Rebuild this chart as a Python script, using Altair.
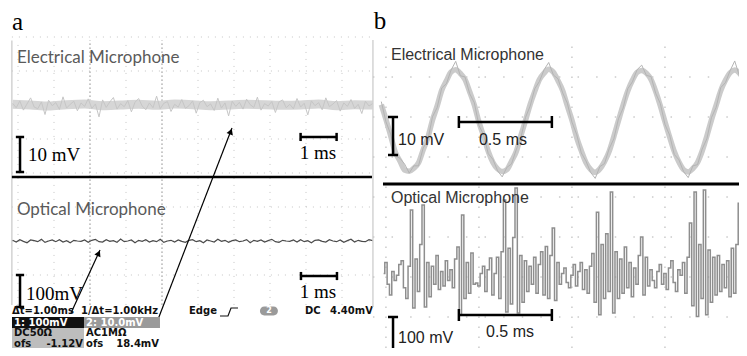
import altair as alt
import pandas as pd

# ---------------- data ----------------
# (a) scope capture, 1 ms/div, samples every 0.1 ms starting at -4.15 ms
a_t0, a_dt = -4.15, 0.1
a_elec_mV = [0.5, -0.8, 1.2, -1.5, 0.3, 2.1, -0.6, -1.1, 0.9, -2.8,
             1.4, -0.2, 0.7, -1.3, 2.4, -0.9, 0.2, 1.1, -1.7, 0.6,
             -0.4, 1.8, -1.0, 0.3, -3.5, 1.5, -0.7, 0.9, 2.2, -1.2,
             0.4, -0.5, 1.3, -2.0, 0.8, 1.9, -0.3, -1.4, 0.6, -0.8,
             2.6, -1.1, 0.5, 1.0, -1.9, 0.2, -0.6, 1.6, -1.0, -0.2,
             1.2, -2.4, 0.7, 1.4, -0.5, 0.3, -1.6, 2.0, -0.9, 0.6,
             -3.2, 1.1, -0.4, 0.8, -1.2, 1.7, 0.1, -0.7, 2.3, -1.5,
             0.4, -0.3, 1.0, -2.2, 0.9, 1.5, -0.8, 0.2, -1.1, 1.9,
             -0.6, 0.5, -2.9, 1.2, -0.2, 0.7, -1.4, 2.1, -0.5, 0.3,
             1.3, -1.8, 0.6, -0.4, 1.6, -1.0, 0.2, -2.5, 1.1, -0.3, 0.4]
a_band_dt = 0.5
a_elec_band_mV = [0.2, 0.0, -0.3, 0.1, 0.3, -0.2, 0.0, 0.2, -0.1, 0.3, 0.1,
                  -0.2, 0.0, 0.2, 0.1, -0.1, 0.0, 0.3, -0.2, 0.1, 0.0]
a_opt_mV = [2, -3, 4, -1, -5, 3, 1, -2, 5, -4,
            0, 3, -2, 4, -3, 1, -5, 2, 0, -1,
            3, -4, 2, 5, -2, -3, 4, -1, 1, -4,
            6, -2, 0, 3, -5, 2, -1, 4, -3, 1,
            -2, 5, -4, 0, 2, -3, 3, -1, -4, 2,
            4, -2, 1, -5, 3, 0, -3, 5, -1, 2,
            -4, 1, 3, -2, 0, 4, -5, 2, -1, 3,
            -3, 1, 5, -2, -4, 2, 0, -1, 3, -3,
            4, -2, 1, -5, 2, 3, -1, -3, 4, 0,
            -2, 3, -4, 1, 5, -3, 2, -1, -2, 4, 1]

# (b) 2 kHz tone, samples every 0.025 ms (electrical) / 0.0125 ms (optical)
b_elec_t0, b_elec_dt = -1.025, 0.025
b_elec_mV = [4.3, 0.4, -3.8, -8.2, -10.5, -12.9, -13.2, -12.4, -11.0, -7.6,
             -4.4, 0.2, 3.9, 8.1, 10.6, 12.9, 13.5, 12.5, 10.9, 7.7,
             4.2, -0.3, -4.0, -8.0, -10.9, -12.6, -13.3, -12.8, -10.6, -8.1,
             -3.9, 0.1, 4.3, 7.8, 10.9, 12.6, 13.6, 12.8, 10.6, 8.0,
             4.0, 0.2, -4.3, -7.8, -10.9, -12.7, -13.5, -12.6, -10.7, -8.0,
             -4.1, 0.1, 4.2, 7.9, 10.7, 12.8, 13.3, 12.6, 10.9, 7.8,
             4.0, -0.2, -4.2, -8.0, -10.8, -12.8, -13.4, -12.5, -10.9, -7.9,
             -4.0, 0.3, 4.1, 8.0, 10.7, 12.7, 13.4, 12.6, 10.8, 7.8]
# fine noise riding on the tone, read as deviation from the smooth trace
b_elec_fuzz_mV = [0.8, -0.6, 0.4, -0.9, 0.7, 1.6, -0.5, 0.6, -0.8, 0.5,
                  -0.7, 0.9, -0.4, 0.6, -0.8, 0.5, 2.2, -0.6, 0.7, -0.5,
                  0.6, -0.9, 0.4, -0.6, 0.8, -0.5, -1.4, 0.6, -0.7, 0.5,
                  -0.6, 0.8, -0.4, 0.7, -0.5, 0.9, 1.8, -0.7, 0.5, -0.6,
                  0.7, -0.5, 0.8, -0.6, 0.4, -0.8, -1.6, 0.6, -0.5, 0.7,
                  -0.6, 0.5, -0.8, 0.6, -0.4, 0.7, 1.4, -0.6, 0.8, -0.5,
                  0.6, -0.7, 0.5, -0.8, 0.6, -0.5, -1.5, 0.7, -0.6, 0.5,
                  -0.7, 0.6, -0.5, 0.8, -0.6, 0.5, 2.4, -0.7, 0.6, -0.5]
b_opt_t0, b_opt_dt = -1.0125, 0.0125
b_opt_mV = [10, 40, -20, -50, 15, -10, 5, 35, 45, -30,
            -60, 30, 186, -86, 50, -40, 90, 200, -83, 40,
            -55, 30, -20, 60, -35, 15, -25, 45, -10, 20,
            -30, 50, 83, -105, 172, -60, 40, -45, 67, -20,
            -17, -25, 10, 30, -40, 20, 53, -50, 10, 55,
            -60, 70, 214, -97, 80, -75, 110, 247, -100, 60,
            -70, 45, -40, 30, -20, 55, -45, 35, 70, -50,
            85, -60, 60, 136, -65, 40, -20, 10, 25, -15,
            -30, 5, 35, -25, 15, 40, -35, 20, -45, 30,
            65, -70, 180, -105, 90, -60, 120, -40, 236, -100,
            70, -60, 50, -45, 83, -30, 40, -55, 25, -20,
            60, 111, -50, 55, -25, 20, -10, -30, 15, 35,
            -20, 10, -35, 25, 45, -15, -40, 20, 5, 40,
            -45, 55, 150, -80, 236, -110, 90, -60, 242, -105,
            75, -70, 55, -50, 60, -40, 35, -30, 45, -55,
            80, -45, 90, 205, -83, 60, -50, 30]

# text content
a_titles = ["Electrical Microphone", "Optical Microphone"]
a_scale_labels = ["10 mV", "1 ms", "100mV", "1 ms"]
b_titles = ["Electrical Microphone", "Optical Microphone"]
b_scale_labels = ["10 mV", "0.5 ms", "100 mV", "0.5 ms"]
status_labels = ["\u0394t=1.00ms", "1/\u0394t=1.00kHz", "Edge", "DC", "4.40mV"]
box_labels_white = ["1: 100mV", "2: 10.0mV"]
box_labels_dark = ["DC50\u03a9", "AC1M\u03a9", "ofs", "ofs"]
box_values = ["-1.12V", "18.4mV"]

# ---------------- scales (one chart, two coordinate systems) ----------------
W, H = 731, 340
AX = alt.Scale(domain=[-4.278, 16.028], nice=False, zero=False)   # panel a time, ms
AY = alt.Scale(domain=[-0.147, 9.853], nice=False, zero=False)    # panel a divisions
BX = alt.Scale(domain=[-3.032, 0.898], nice=False, zero=False)    # panel b time, ms
BY = alt.Scale(domain=[0.225, 8.725], nice=False, zero=False)     # panel b divisions
A_END = 5.833
B_END = 0.898


def X(s):
    return alt.X("x:Q", scale=s, axis=None)


def Y(s):
    return alt.Y("y:Q", scale=s, axis=None)


def rules(df, xs, ys, **mk):
    return alt.Chart(df).mark_rule(clip=True, **mk).encode(x=X(xs), y=Y(ys), x2="x2:Q", y2="y2:Q")


def line(df, xs, ys, **mk):
    return alt.Chart(df).mark_line(clip=True, **mk).encode(x=X(xs), y=Y(ys))


def texts(df, xs, ys, **mk):
    return alt.Chart(df).mark_text(**mk).encode(x=X(xs), y=Y(ys), text="text:N")


def seg(rows):
    return pd.DataFrame(rows, columns=["x", "y", "x2", "y2"])


def trace(t0, dt, vals, center, k):
    return pd.DataFrame({"x": [t0 + i * dt for i in range(len(vals))],
                         "y": [center + v * k for v in vals]})


STAT = dict(font="DejaVu Sans", fontWeight="bold", fontSize=10, baseline="middle")

# ---------------- panel a ----------------
L = []
L.append(rules(seg([(-4.17, r, A_END, r) for r in range(2, 10)]), AX, AY,
               color="#c4c4c4", strokeDash=[1, 6], strokeWidth=1))
L.append(rules(seg([(c, 1.12, c, 8.9) for c in [-4, -3, -1, 1, 2, 3, 4, 5]]), AX, AY,
               color="#c4c4c4", strokeDash=[1, 6], strokeWidth=1))
L.append(rules(seg([(c, 1.12, c, 8.9) for c in [-2, 0]]), AX, AY,
               color="#8a8a8a", strokeDash=[1.5, 2.5], strokeWidth=1))
L.append(rules(seg([(-4.17, 1.12, -4.17, 8.9)]), AX, AY, color="#c8c8c8", strokeWidth=1.2))
L.append(line(trace(a_t0, a_band_dt, a_elec_band_mV, 7.0, 0.1), AX, AY,
              color="#d6d6d6", strokeWidth=9, interpolate="monotone"))
L.append(line(trace(a_t0, a_dt, a_elec_mV, 7.0, 0.1), AX, AY, color="#c6c6c6", strokeWidth=1))
L.append(line(trace(a_t0, a_dt, a_opt_mV, 3.0, 0.01), AX, AY, color="#4a4a4a", strokeWidth=1.2))
L.append(rules(seg([(-4.17, 4.88, A_END, 4.88)]), AX, AY, color="black", strokeWidth=2.5))
L.append(rules(seg([
    (-3.944, 5.029, -3.944, 6.059), (-4.06, 6.059, -3.83, 6.059), (-4.06, 5.029, -3.83, 5.029),
    (3.85, 6.059, 4.85, 6.059), (3.85, 5.94, 3.85, 6.18), (4.85, 5.94, 4.85, 6.18),
    (-3.944, 1.06, -3.944, 2.0), (-4.06, 2.0, -3.83, 2.0), (-4.06, 1.06, -3.83, 1.06),
    (3.86, 1.97, 4.86, 1.97), (3.86, 1.85, 3.86, 2.09), (4.86, 1.85, 4.86, 2.09),
]), AX, AY, color="black", strokeWidth=2.5))
L.append(rules(seg([(-2.528, 0.882, -1.722, 2.735), (-0.139, 0.618, 1.944, 6.324)]), AX, AY,
               color="black", strokeWidth=1.2))
L.append(alt.Chart(pd.DataFrame({"x": [-1.76, 1.91], "y": [2.64, 6.22], "ang": [25, 21]}))
         .mark_point(shape="triangle-up", filled=True, size=45, color="black", opacity=1)
         .encode(x=X(AX), y=Y(AY), angle=alt.Angle("ang:Q", scale=None)))
L.append(texts(pd.DataFrame({"x": [-4.03, -4.03], "y": [8.38, 3.91], "text": a_titles}), AX, AY,
               align="left", baseline="middle", font="Lato", fontSize=17, color="#5a5a5a"))
L.append(texts(pd.DataFrame({"x": [-3.72, -3.78], "y": [5.53, 1.44],
                             "text": [a_scale_labels[0], a_scale_labels[2]]}),
               AX, AY, align="left", baseline="middle", font="Liberation Serif",
               fontSize=19, color="black"))
L.append(texts(pd.DataFrame({"x": [4.333, 4.333], "y": [5.59, 1.50],
                             "text": [a_scale_labels[1], a_scale_labels[3]]}),
               AX, AY, align="center", baseline="middle", font="Liberation Serif",
               fontSize=19, color="black"))
L.append(texts(pd.DataFrame({"x": [-4.167], "y": [9.22], "text": ["a"]}), AX, AY,
               align="left", baseline="alphabetic", font="Liberation Serif",
               fontSize=25, color="black"))
# status line
L.append(texts(pd.DataFrame({"x": [-4.167, -2.25, 0.75, 3.97], "y": [0.94] * 4,
                             "text": status_labels[:4]}), AX, AY, align="left", color="#111", **STAT))
L.append(texts(pd.DataFrame({"x": [5.86], "y": [0.94], "text": [status_labels[4]]}), AX, AY,
               align="right", color="#111", **STAT))
L.append(line(pd.DataFrame({"x": [1.611, 1.833, 1.917, 2.111],
                            "y": [0.794, 0.794, 1.029, 1.029]}), AX, AY,
              color="#111", strokeWidth=1.2))
L.append(alt.Chart(pd.DataFrame({"x": [2.72], "x2": [3.22], "y": [0.81], "y2": [1.07]}))
         .mark_rect(cornerRadius=5, color="#9a9a9a")
         .encode(x=X(AX), y=Y(AY), x2="x2:Q", y2="y2:Q"))
L.append(texts(pd.DataFrame({"x": [2.97], "y": [0.94], "text": ["2"]}), AX, AY,
               align="center", baseline="middle", font="DejaVu Sans", fontWeight="bold",
               fontSize=8, color="white"))
boxes = pd.DataFrame({
    "x": [-4.167, -2.167, -4.167, -4.167],
    "x2": [-2.167, -0.056, -2.167, -2.167],
    "y": [0.765, 0.765, 0.441, 0.118],
    "y2": [0.441, 0.441, 0.118, -0.147],
    "fill": ["#111111", "#9a9a9a", "#bdbdbd", "#bdbdbd"],
})
L.append(alt.Chart(boxes).mark_rect().encode(
    x=X(AX), y=Y(AY), x2="x2:Q", y2="y2:Q", color=alt.Color("fill:N", scale=None)))
L.append(texts(pd.DataFrame({"x": [-4.11, -2.11], "y": [0.603, 0.603],
                             "text": box_labels_white}), AX, AY, align="left", color="white", **STAT))
L.append(texts(pd.DataFrame({"x": [-4.11, -2.11, -4.11, -2.11], "y": [0.28, 0.28, -0.02, -0.02],
                             "text": box_labels_dark}), AX, AY, align="left", color="#111", **STAT))
L.append(texts(pd.DataFrame({"x": [-2.194, -0.083], "y": [-0.02, -0.02],
                             "text": box_values}), AX, AY, align="right", color="#111", **STAT))

# ---------------- panel b ----------------
L.append(rules(seg([(-1.07, r, B_END, r) for r in range(1, 8)]), BX, BY,
               color="#b0b0b0", strokeDash=[1.5, 17.1], strokeWidth=1))
L.append(rules(seg([(c, 0.225, c, 7.925) for c in [-1.0, -0.5, 0.0, 0.5]]), BX, BY,
               color="#b0b0b0", strokeDash=[1.5, 8.5], strokeWidth=1))
L.append(rules(seg([(-1.07, 1.25, -1.07, 7.925)]), BX, BY, color="#c8c8c8", strokeWidth=1.2))
L.append(line(trace(b_elec_t0, b_elec_dt, b_elec_mV, 5.9, 0.095), BX, BY,
              color="#cbcbcb", strokeWidth=5.5, interpolate="monotone"))
L.append(line(trace(b_elec_t0, b_elec_dt,
                    [v + f for v, f in zip(b_elec_mV, b_elec_fuzz_mV)], 5.9, 0.095), BX, BY,
              color="#b4b4b4", strokeWidth=1))
L.append(line(trace(b_opt_t0, b_opt_dt, b_opt_mV, 2.0, 0.009), BX, BY,
              color="#8e8e8e", strokeWidth=1.5, interpolate="step"))
L.append(rules(seg([(-1.016, 4.325, B_END, 4.325)]), BX, BY, color="black", strokeWidth=3))
L.append(rules(seg([
    (-0.962, 5.05, -0.962, 6.0), (-0.989, 6.0, -0.935, 6.0), (-0.989, 5.05, -0.935, 5.05),
    (-0.608, 5.875, -0.108, 5.875), (-0.608, 5.725, -0.608, 6.025), (-0.108, 5.725, -0.108, 6.025),
    (-0.962, 0.1, -0.962, 1.0), (-0.989, 1.0, -0.935, 1.0), (-0.989, 0.1, -0.935, 0.1),
    (-0.608, 1.05, -0.108, 1.05), (-0.608, 0.9, -0.608, 1.2), (-0.108, 0.9, -0.108, 1.2),
]), BX, BY, color="black", strokeWidth=2.5))
L.append(texts(pd.DataFrame({"x": [-0.973, -0.973], "y": [7.55, 3.975], "text": b_titles}), BX, BY,
               align="left", baseline="middle", font="Liberation Sans", fontSize=16, color="#333"))
L.append(texts(pd.DataFrame({"x": [-0.935, -0.935], "y": [5.425, 0.475],
                             "text": [b_scale_labels[0], b_scale_labels[2]]}), BX, BY,
               align="left", baseline="middle", font="Liberation Sans", fontSize=16, color="#222"))
L.append(texts(pd.DataFrame({"x": [-0.371, -0.333], "y": [5.425, 0.625],
                             "text": [b_scale_labels[1], b_scale_labels[3]]}), BX, BY,
               align="center", baseline="middle", font="Liberation Sans", fontSize=16, color="#222"))
L.append(texts(pd.DataFrame({"x": [-1.065], "y": [8.19], "text": ["b"]}), BX, BY,
               align="left", baseline="alphabetic", font="Liberation Serif",
               fontSize=25, color="black"))

chart = (alt.layer(*L)
         .resolve_scale(x="independent", y="independent")
         .properties(width=W, height=H, padding=0, background="white",
                     autosize=alt.AutoSizeParams(type="none"))
         .configure_view(stroke=None))

chart.save("out.html", embed_options={"renderer": "svg", "actions": False})
